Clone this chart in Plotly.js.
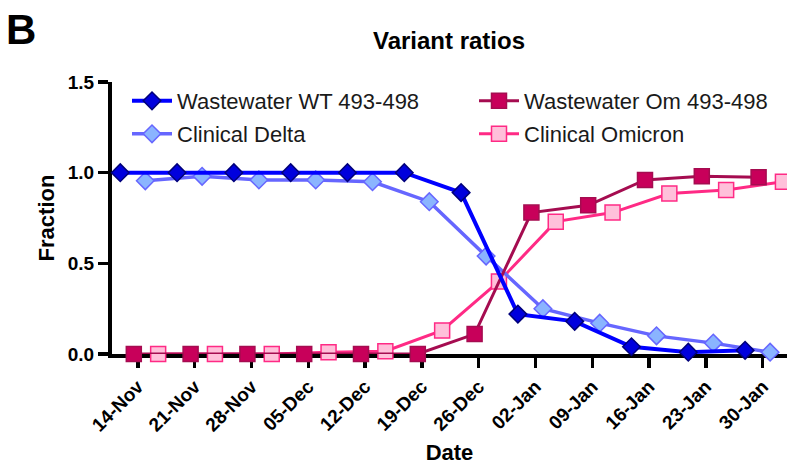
<!DOCTYPE html>
<html>
<head>
<meta charset="utf-8">
<script src="https://cdn.plot.ly/plotly-3.0.1.min.js"></script>
<style>html,body{margin:0;padding:0;background:#fff;}#chart{width:787px;height:465px;}</style>
</head>
<body>
<div id="chart"></div>
<script>
// ---- data ----
var wtDates = ['2021-11-11 20:00','2021-11-18 20:00','2021-11-25 20:00','2021-12-02 20:00','2021-12-09 20:00','2021-12-16 20:00','2021-12-23 20:00','2021-12-30 20:00','2022-01-06 20:00','2022-01-13 20:00','2022-01-20 20:00','2022-01-27 20:00'];
var wtValues = [1.0, 1.0, 1.0, 1.0, 1.0, 1.0, 0.89, 0.22, 0.18, 0.04, 0.01, 0.02];

var omDates = ['2021-11-13 12:00','2021-11-20 12:00','2021-11-27 12:00','2021-12-04 12:00','2021-12-11 12:00','2021-12-18 12:00','2021-12-25 12:00','2022-01-01 12:00','2022-01-08 12:00','2022-01-15 12:00','2022-01-22 12:00','2022-01-29 12:00'];
var omValues = [0.0, 0.0, 0.0, 0.0, 0.0, 0.0, 0.11, 0.78, 0.82, 0.96, 0.98, 0.975];

var deltaDates = ['2021-11-14 22:00','2021-11-21 22:00','2021-11-28 22:00','2021-12-05 22:00','2021-12-12 22:00','2021-12-19 22:00','2021-12-26 22:00','2022-01-02 22:00','2022-01-09 22:00','2022-01-16 22:00','2022-01-23 22:00','2022-01-30 22:00'];
var deltaValues = [0.955, 0.98, 0.96, 0.96, 0.95, 0.84, 0.54, 0.25, 0.17, 0.10, 0.06, 0.01];

var omicronDates = ['2021-11-16 12:00','2021-11-23 12:00','2021-11-30 12:00','2021-12-07 12:00','2021-12-14 12:00','2021-12-21 12:00','2021-12-28 12:00','2022-01-04 12:00','2022-01-11 12:00','2022-01-18 12:00','2022-01-25 12:00','2022-02-01 12:00'];
var omicronValues = [0.0, 0.0, 0.0, 0.01, 0.015, 0.13, 0.40, 0.73, 0.78, 0.885, 0.905, 0.95];

var seriesNames = ['Wastewater WT 493-498', 'Wastewater Om 493-498', 'Clinical Delta', 'Clinical Omicron'];
var yTickVals = [0, 0.5, 1.0, 1.5];
var xTickStart = '2021-11-14';

// ---- chart ----
var FONT = 'Liberation Sans, Arial, sans-serif';
var W = 787, H = 465, ML = 112, MR = 0, MT = 82, MB = 111;
var PW = W - ML - MR, PH = H - MT - MB;
function px(x) { return (x - ML) / PW; }
function py(y) { return (H - MB - y) / PH; }

var traces = [
  {x: omicronDates, y: omicronValues, name: seriesNames[3], mode: 'lines+markers', legend: 'legend4',
   line: {color: '#FF2A85', width: 3},
   marker: {symbol: 'square', size: 15, color: '#FFC0DA', line: {color: '#FF2A85', width: 1.5}}, cliponaxis: false},
  {x: deltaDates, y: deltaValues, name: seriesNames[2], mode: 'lines+markers', legend: 'legend3',
   line: {color: '#6666FF', width: 3.5},
   marker: {symbol: 'diamond', size: 13.5, color: '#8AB4FF', line: {color: '#6666FF', width: 1.5}}, cliponaxis: false},
  {x: omDates, y: omValues, name: seriesNames[1], mode: 'lines+markers', legend: 'legend2',
   line: {color: '#A50C50', width: 3},
   marker: {symbol: 'square', size: 15, color: '#C8005A', line: {color: '#A50C50', width: 1.5}}, cliponaxis: false},
  {x: wtDates, y: wtValues, name: seriesNames[0], mode: 'lines+markers', legend: 'legend',
   line: {color: '#0000FF', width: 4},
   marker: {symbol: 'diamond', size: 13.5, color: '#0000DD', line: {color: '#00007A', width: 1.5}}, cliponaxis: false}
];

function leg(xpx, ypx) {
  return {xref: 'paper', yref: 'paper', x: px(xpx), y: py(ypx),
    xanchor: 'left', yanchor: 'middle', bgcolor: 'rgba(0,0,0,0)', borderwidth: 0,
    itemwidth: 40, font: {family: FONT, size: 22, color: '#1a1a1a'}};
}

var layout = {
  width: W, height: H,
  margin: {l: ML, r: MR, t: MT, b: MB, autoexpand: false},
  paper_bgcolor: '#fff', plot_bgcolor: '#fff',
  showlegend: true,
  title: {text: '<b>Variant ratios</b>', font: {family: FONT, size: 24, color: '#000'},
          x: 449 / W, xanchor: 'center', y: 1 - 41 / H, yanchor: 'middle', xref: 'container', yref: 'container'},
  xaxis: {
    type: 'date',
    range: ['2021-11-10 19:30', '2022-02-02 00:00'],
    tick0: xTickStart, dtick: 7 * 24 * 3600 * 1000,
    tickformat: '%d-%b', tickangle: -45,
    ticks: 'outside', ticklen: 10, tickwidth: 3.5, tickcolor: '#000',
    showline: true, linecolor: '#000', linewidth: 4,
    showgrid: false, zeroline: false, automargin: false,
    tickfont: {family: FONT, size: 19, color: '#000', weight: 'bold'},
    title: {text: '<b>Date</b>', font: {family: FONT, size: 22, color: '#000'}, standoff: 14},
    layer: 'below traces', fixedrange: true
  },
  yaxis: {
    range: [0, 1.5],
    tickvals: yTickVals, tickformat: '.1f',
    ticks: 'outside', ticklen: 10, tickwidth: 3.5, tickcolor: '#000',
    showline: true, linecolor: '#000', linewidth: 4,
    showgrid: false, zeroline: false, automargin: false,
    tickfont: {family: FONT, size: 19, color: '#000', weight: 'bold'},
    title: {text: '<b>Fraction</b>', font: {family: FONT, size: 22, color: '#000'}, standoff: 8},
    layer: 'below traces', fixedrange: true
  },
  legend: leg(127, 101),
  legend2: leg(474, 101),
  legend3: leg(127, 134),
  legend4: leg(474, 134),
  annotations: [
    {text: '<b>B</b>', xref: 'paper', yref: 'paper', x: px(4), y: py(29),
     xanchor: 'left', yanchor: 'middle', showarrow: false, font: {family: FONT, size: 42, color: '#000'}}
  ]
};

Plotly.newPlot('chart', traces, layout, {displayModeBar: false, staticPlot: true});
</script>
</body>
</html>
